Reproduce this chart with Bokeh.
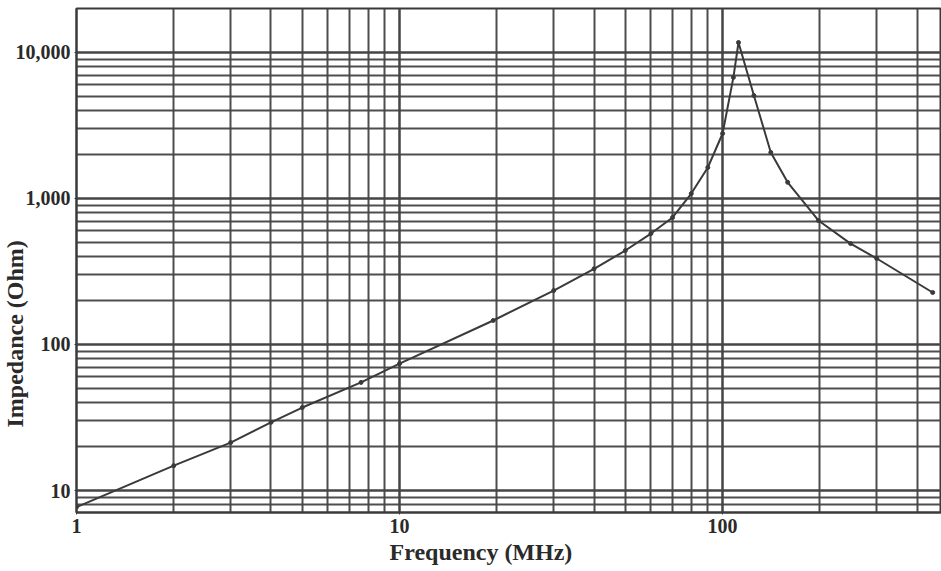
from bokeh.plotting import figure
from bokeh.models import FixedTicker, NumeralTickFormatter, Title, Range1d
from bokeh.embed import file_html
from bokeh.resources import INLINE

# Data
freq_mhz = [1, 2, 3, 4, 5, 7.6, 10, 19.5, 30, 40, 50, 60, 70, 80, 90, 100, 108, 112,
            125, 141, 159, 198, 249, 300, 447]
impedance_ohm = [7.7, 14.8, 21.3, 29.3, 37, 55, 74, 146, 234, 330, 440, 575, 741, 1081,
                 1630, 2785, 6750, 11700, 5070, 2066, 1290, 707, 491, 388, 227]

x_major = [1, 10, 100]
y_major = [10, 100, 1000, 10000]
mantissas = [2, 3, 4, 5, 6, 7, 8, 9]

x_min, x_max = 1, 476
y_min, y_max = 7.07, 20000

x_minor = [m * d for d in [1, 10, 100] for m in mantissas if m * d <= x_max]
y_minor = [m * d for d in [1, 10, 100, 1000, 10000] for m in mantissas
           if y_min <= m * d <= y_max]

FONT = "Liberation Serif"
GRID = "#454545"
INK = "#3a3a3a"
TEXT = "#2a2a2a"

p = figure(width=941, height=571, x_axis_type="log", y_axis_type="log",
           x_range=Range1d(x_min, x_max), y_range=Range1d(y_min, y_max),
           output_backend="svg", toolbar_location=None,
           min_border_left=76, min_border_right=0, min_border_top=8, min_border_bottom=59)

p.background_fill_color = "white"
p.border_fill_color = "white"
p.outline_line_color = INK
p.outline_line_width = 2

p.xaxis.ticker = FixedTicker(ticks=x_major, minor_ticks=x_minor)
p.yaxis.ticker = FixedTicker(ticks=y_major, minor_ticks=y_minor)
p.yaxis.formatter = NumeralTickFormatter(format="0,0")
p.xaxis.formatter = NumeralTickFormatter(format="0,0")

for ax in (p.xaxis, p.yaxis):
    ax.major_label_text_font = FONT
    ax.major_label_text_font_style = "bold"
    ax.major_label_text_font_size = "20px"
    ax.major_label_text_color = TEXT
    ax.axis_line_color = INK
    ax.axis_line_width = 2
    ax.major_tick_line_color = INK
    ax.major_tick_in = 0
    ax.major_tick_out = 2
    ax.minor_tick_line_color = None
    ax.major_label_standoff = 2

for g in (p.xgrid, p.ygrid):
    g.grid_line_color = GRID
    g.grid_line_width = 2.5
    g.grid_line_alpha = 1.0
    g.minor_grid_line_color = GRID
    g.minor_grid_line_width = 2
    g.minor_grid_line_alpha = 0.95

p.line(freq_mhz, impedance_ohm, line_color=INK, line_width=2)
p.scatter(freq_mhz, impedance_ohm, size=4, color=INK)

p.add_layout(Title(text="Frequency (MHz)", align="left", offset=313, standoff=2,
                   text_font=FONT, text_font_style="bold", text_font_size="24px",
                   text_color=TEXT), "below")
p.add_layout(Title(text="Impedance (Ohm)", align="left", offset=85, standoff=-30,
                   text_font=FONT, text_font_style="bold", text_font_size="24px",
                   text_color=TEXT), "left")

open("out.html", "w").write(file_html(p, INLINE))
